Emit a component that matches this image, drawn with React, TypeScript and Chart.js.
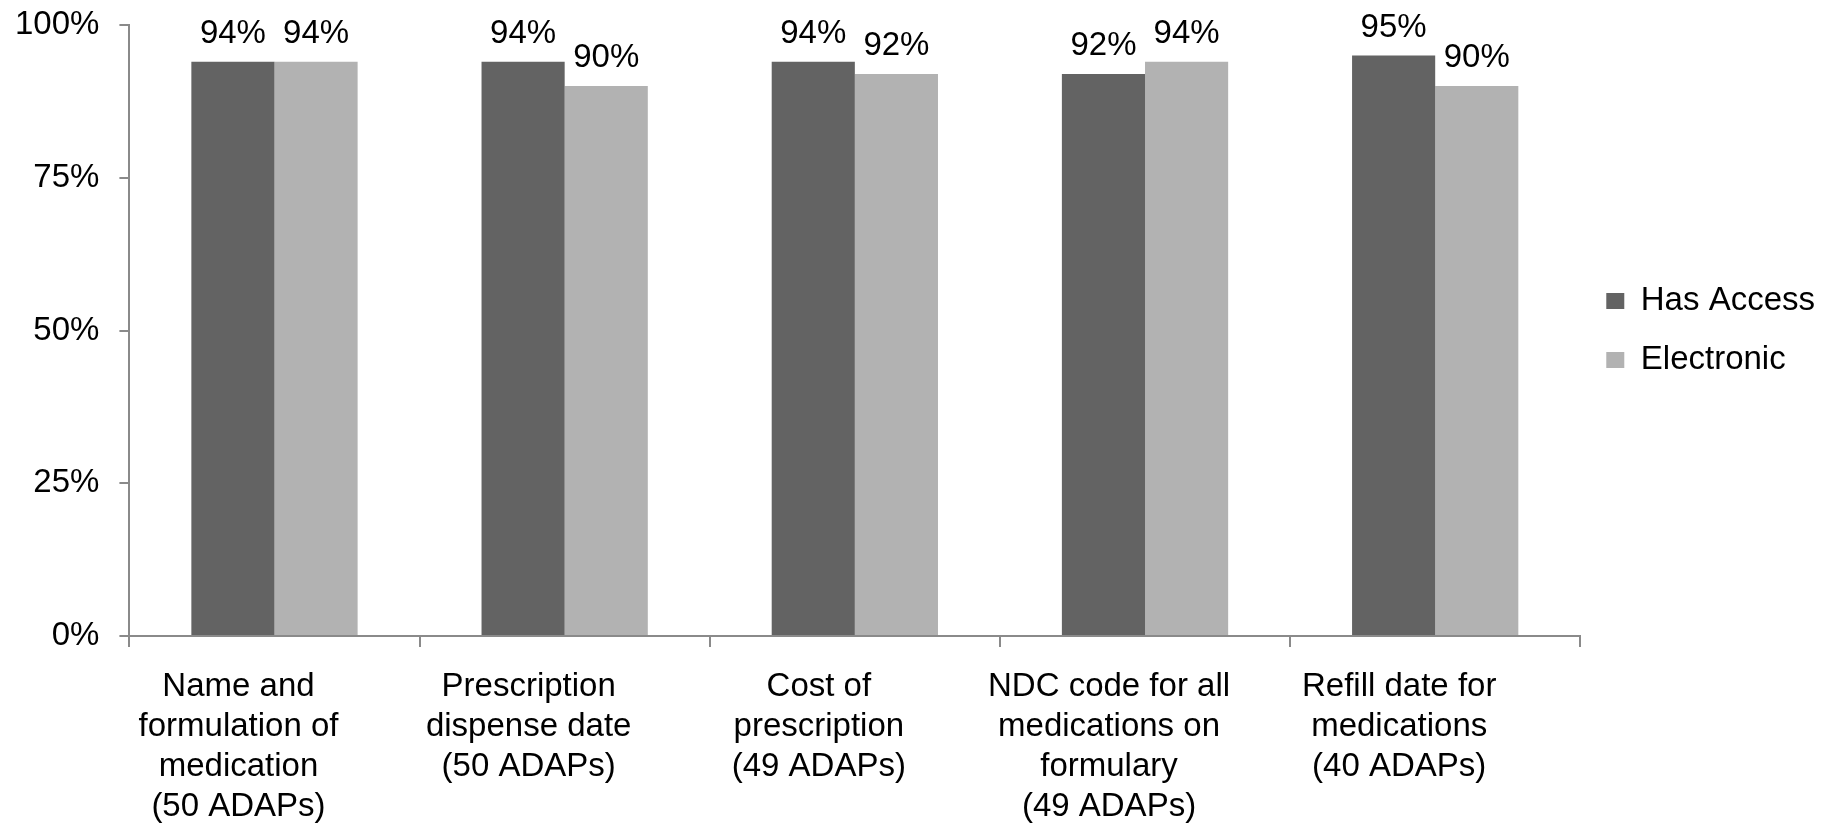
import React, { useEffect, useRef } from "react";
import { Chart, registerables } from "chart.js";

Chart.register(...registerables);

const categories: string[][] = [
  ["Name and", "formulation of", "medication", "(50 ADAPs)"],
  ["Prescription", "dispense date", "(50 ADAPs)"],
  ["Cost of", "prescription", "(49 ADAPs)"],
  ["NDC code for all", "medications on", "formulary", "(49 ADAPs)"],
  ["Refill date for", "medications", "(40 ADAPs)"],
];
const seriesNames = ["Has Access", "Electronic"];
const hasAccess = [94, 94, 94, 92, 95];
const electronic = [94, 90, 92, 94, 90];
const yTicks = [0, 25, 50, 75, 100];

const FONT = "'Liberation Sans', Arial, sans-serif";
const FS = 33;

const valueLabels = {
  id: "valueLabels",
  afterDatasetsDraw(chart: any) {
    const ctx = chart.ctx;
    ctx.save();
    ctx.font = `${FS}px ${FONT}`;
    ctx.fillStyle = "#000";
    ctx.textAlign = "center";
    ctx.textBaseline = "alphabetic";
    chart.data.datasets.forEach((ds: any, di: number) => {
      const meta = chart.getDatasetMeta(di);
      meta.data.forEach((bar: any, i: number) => {
        ctx.fillText(`${ds.data[i]}%`, bar.x, bar.y - 19);
      });
    });
    ctx.restore();
  },
};

export default function App() {
  const ref = useRef<HTMLCanvasElement>(null);
  useEffect(() => {
    document.body.style.margin = "0";
    const chart = new Chart(ref.current as HTMLCanvasElement, {
      type: "bar",
      data: {
        labels: categories,
        datasets: [
          { label: seriesNames[0], data: hasAccess, backgroundColor: "#636363" },
          { label: seriesNames[1], data: electronic, backgroundColor: "#b2b2b2" },
        ],
      },
      options: {
        animation: false,
        responsive: true,
        maintainAspectRatio: false,
        layout: { padding: { left: -5, top: 25, right: 0, bottom: -22 } },
        datasets: { bar: { categoryPercentage: 0.573, barPercentage: 1 } },
        scales: {
          x: {
            grid: { drawOnChartArea: false, offset: true, color: "#8a8a8a", lineWidth: 2, tickLength: 11 },
            border: { color: "#8a8a8a", width: 2 },
            ticks: {
              font: { family: FONT, size: FS, lineHeight: "40px" },
              color: "#000",
              padding: 20,
              labelOffset: -36,
              maxRotation: 0,
              autoSkip: false,
            },
          },
          y: {
            min: 0,
            max: 100,
            afterBuildTicks: (axis: any) => {
              axis.ticks = yTicks.map((v) => ({ value: v }));
            },
            afterFit: (axis: any) => {
              axis.paddingTop = 0;
              axis.paddingBottom = 0;
            },
            grid: { drawOnChartArea: false, color: "#8a8a8a", lineWidth: 2, tickLength: 10 },
            border: { color: "#8a8a8a", width: 2 },
            ticks: {
              font: { family: FONT, size: FS },
              color: "#000",
              padding: 20,
              callback: (v: any) => `${v}%`,
            },
          },
        },
        plugins: {
          legend: {
            position: "right",
            fullSize: false,
            labels: {
              font: { family: FONT, size: FS },
              color: "#000",
              boxWidth: 18,
              boxHeight: 16,
              padding: 26,
            },
          },
          tooltip: { enabled: false },
        },
      },
      plugins: [valueLabels],
    });
    return () => chart.destroy();
  }, []);
  return (
    <div style={{ width: 1825, height: 825, position: "relative" }}>
      <canvas ref={ref} />
    </div>
  );
}
